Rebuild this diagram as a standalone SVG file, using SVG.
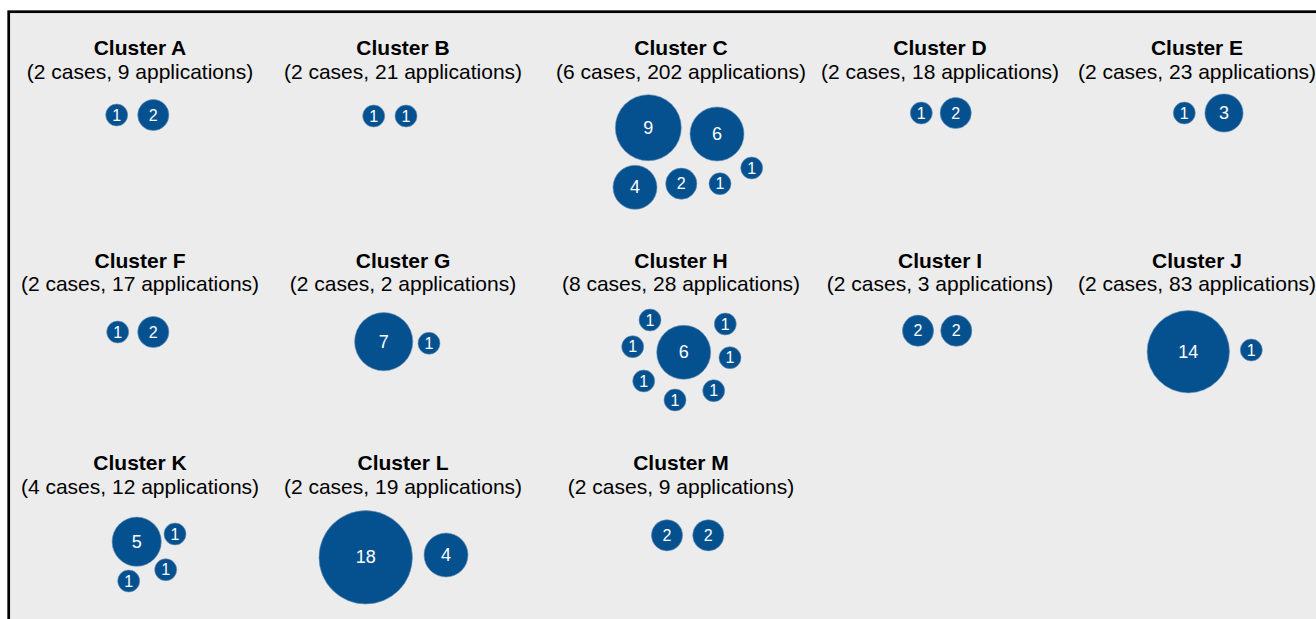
<svg xmlns="http://www.w3.org/2000/svg" width="1316" height="619" viewBox="0 0 1316 619">
<style>
.t{font-family:"Liberation Sans",Arial,sans-serif;font-size:21px;font-weight:bold;fill:#000;text-anchor:middle}
.s{font-family:"Liberation Sans",Arial,sans-serif;font-size:21px;fill:#000;text-anchor:middle}
.c{fill:#05518f;stroke:#6f93b8;stroke-width:0.6}
.n{font-family:"Liberation Sans",Arial,sans-serif;font-size:16px;fill:#fff;text-anchor:middle;dominant-baseline:central}
.b{font-size:18px}
</style>
<rect width="1316" height="619" fill="#fff"/>
<rect x="8.7" y="11.7" width="1330" height="640" fill="#ececec" stroke="#000" stroke-width="2.7"/>
<g id="connectors"></g>
<g id="clusterA">
<text class="t" x="140" y="55">Cluster A</text><text class="s" x="140" y="79">(2 cases, 9 applications)</text>
<circle class="c" cx="116.7" cy="115" r="11"/><text class="n" x="116.7" y="115">1</text>
<circle class="c" cx="153.3" cy="115" r="15.6"/><text class="n" x="153.3" y="115">2</text>
</g>
<g id="clusterB">
<text class="t" x="403" y="55">Cluster B</text><text class="s" x="403" y="79">(2 cases, 21 applications)</text>
<circle class="c" cx="373.7" cy="116" r="11"/><text class="n" x="373.7" y="116">1</text>
<circle class="c" cx="406" cy="116" r="11"/><text class="n" x="406" y="116">1</text>
</g>
<g id="clusterC">
<text class="t" x="681" y="55">Cluster C</text><text class="s" x="681" y="79">(6 cases, 202 applications)</text>
<circle class="c" cx="648.3" cy="127.7" r="33"/><text class="n b" x="648.3" y="127.7">9</text>
<circle class="c" cx="717" cy="134" r="27"/><text class="n b" x="717" y="134">6</text>
<circle class="c" cx="635" cy="187.3" r="22"/><text class="n b" x="635" y="187.3">4</text>
<circle class="c" cx="681.3" cy="183.7" r="15.6"/><text class="n" x="681.3" y="183.7">2</text>
<circle class="c" cx="720" cy="183.7" r="11"/><text class="n" x="720" y="183.7">1</text>
<circle class="c" cx="751.7" cy="168" r="11"/><text class="n" x="751.7" y="168">1</text>
</g>
<g id="clusterD">
<text class="t" x="940" y="55">Cluster D</text><text class="s" x="940" y="79">(2 cases, 18 applications)</text>
<circle class="c" cx="921.3" cy="113" r="11"/><text class="n" x="921.3" y="113">1</text>
<circle class="c" cx="955.7" cy="113" r="15.6"/><text class="n" x="955.7" y="113">2</text>
</g>
<g id="clusterE">
<text class="t" x="1197" y="55">Cluster E</text><text class="s" x="1197" y="79">(2 cases, 23 applications)</text>
<circle class="c" cx="1184.3" cy="113" r="11"/><text class="n" x="1184.3" y="113">1</text>
<circle class="c" cx="1224" cy="113" r="19.1"/><text class="n b" x="1224" y="113">3</text>
</g>
<g id="clusterF">
<text class="t" x="140" y="268">Cluster F</text><text class="s" x="140" y="291">(2 cases, 17 applications)</text>
<circle class="c" cx="117.7" cy="332" r="11"/><text class="n" x="117.7" y="332">1</text>
<circle class="c" cx="153.3" cy="332" r="15.6"/><text class="n" x="153.3" y="332">2</text>
</g>
<g id="clusterG">
<text class="t" x="403" y="268">Cluster G</text><text class="s" x="403" y="291">(2 cases, 2 applications)</text>
<circle class="c" cx="383.7" cy="341.7" r="29.1"/><text class="n b" x="383.7" y="341.7">7</text>
<circle class="c" cx="429" cy="343.3" r="11"/><text class="n" x="429" y="343.3">1</text>
</g>
<g id="clusterH">
<text class="t" x="681" y="268">Cluster H</text><text class="s" x="681" y="291">(8 cases, 28 applications)</text>
<circle class="c" cx="683.7" cy="352.3" r="27"/><text class="n b" x="683.7" y="352.3">6</text>
<circle class="c" cx="650" cy="320" r="11"/><text class="n" x="650" y="320">1</text>
<circle class="c" cx="725.3" cy="324" r="11"/><text class="n" x="725.3" y="324">1</text>
<circle class="c" cx="632.7" cy="346.7" r="11"/><text class="n" x="632.7" y="346.7">1</text>
<circle class="c" cx="730" cy="357.7" r="11"/><text class="n" x="730" y="357.7">1</text>
<circle class="c" cx="643.7" cy="381" r="11"/><text class="n" x="643.7" y="381">1</text>
<circle class="c" cx="713.7" cy="390.7" r="11"/><text class="n" x="713.7" y="390.7">1</text>
<circle class="c" cx="675" cy="400" r="11"/><text class="n" x="675" y="400">1</text>
</g>
<g id="clusterI">
<text class="t" x="940" y="268">Cluster I</text><text class="s" x="940" y="291">(2 cases, 3 applications)</text>
<circle class="c" cx="918" cy="330.7" r="15.6"/><text class="n" x="918" y="330.7">2</text>
<circle class="c" cx="956.3" cy="330.7" r="15.6"/><text class="n" x="956.3" y="330.7">2</text>
</g>
<g id="clusterJ">
<text class="t" x="1197" y="268">Cluster J</text><text class="s" x="1197" y="291">(2 cases, 83 applications)</text>
<circle class="c" cx="1188.3" cy="351.7" r="41.2"/><text class="n b" x="1188.3" y="351.7">14</text>
<circle class="c" cx="1251.3" cy="350" r="11"/><text class="n" x="1251.3" y="350">1</text>
</g>
<g id="clusterK">
<text class="t" x="140" y="470">Cluster K</text><text class="s" x="140" y="494">(4 cases, 12 applications)</text>
<circle class="c" cx="136.7" cy="541.7" r="24.6"/><text class="n b" x="136.7" y="541.7">5</text>
<circle class="c" cx="175" cy="534" r="11"/><text class="n" x="175" y="534">1</text>
<circle class="c" cx="165.7" cy="569.7" r="11"/><text class="n" x="165.7" y="569.7">1</text>
<circle class="c" cx="128.7" cy="581" r="11"/><text class="n" x="128.7" y="581">1</text>
</g>
<g id="clusterL">
<text class="t" x="403" y="470">Cluster L</text><text class="s" x="403" y="494">(2 cases, 19 applications)</text>
<circle class="c" cx="365.7" cy="557.3" r="46.7"/><text class="n b" x="365.7" y="557.3">18</text>
<circle class="c" cx="446" cy="555" r="22"/><text class="n b" x="446" y="555">4</text>
</g>
<g id="clusterM">
<text class="t" x="681" y="470">Cluster M</text><text class="s" x="681" y="494">(2 cases, 9 applications)</text>
<circle class="c" cx="667" cy="535.3" r="15.6"/><text class="n" x="667" y="535.3">2</text>
<circle class="c" cx="708.3" cy="535.3" r="15.6"/><text class="n" x="708.3" y="535.3">2</text>
</g>
</svg>
